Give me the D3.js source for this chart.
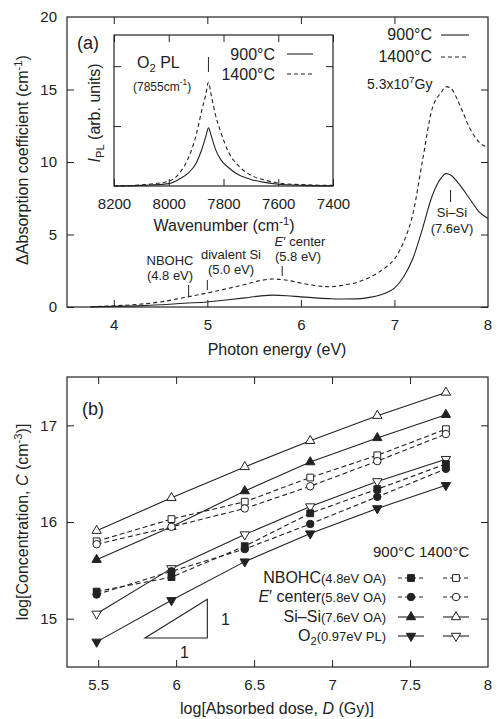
<!DOCTYPE html>
<html>
<head>
<meta charset="utf-8">
<script src="https://cdn.jsdelivr.net/npm/d3@7"></script>
<style>
  body { margin: 0; background: #fff; }
  svg { display: block; font-family: "Liberation Sans", Arial, Helvetica, sans-serif; }
</style>
</head>
<body>
<svg id="chart" width="497" height="719"></svg>
<script>
// ---- panel (a): difference absorption spectra ----
const energy     = [3.75, 4.0, 4.25, 4.5, 4.75, 5.0, 5.2, 5.4, 5.55, 5.7, 5.85, 6.0, 6.15, 6.3, 6.45, 6.6, 6.75, 6.9, 7.0, 7.1, 7.2, 7.3, 7.4, 7.5, 7.55, 7.6, 7.7, 7.8, 7.9, 8.0];
const absorb900  = [0.01, 0.04, 0.08, 0.15, 0.26, 0.35, 0.48, 0.63, 0.75, 0.82, 0.78, 0.70, 0.63, 0.58, 0.55, 0.56, 0.68, 0.95, 1.3, 2.1, 3.4, 5.4, 7.6, 8.9, 9.2, 9.1, 8.4, 7.5, 6.6, 6.1];
const absorb1400 = [0.02, 0.08, 0.18, 0.35, 0.65, 0.97, 1.25, 1.55, 1.80, 1.93, 1.85, 1.65, 1.48, 1.40, 1.50, 1.70, 2.1, 2.7, 3.3, 4.5, 6.5, 10.1, 13.6, 14.8, 15.2, 15.1, 13.9, 12.4, 11.4, 11.0];
const energyTicks = [4, 5, 6, 7, 8];
const absorbTicks = [0, 5, 10, 15, 20];

// ---- inset: O2 photoluminescence ----
const wavenumber = [8200, 8100, 8000, 7960, 7930, 7900, 7880, 7865, 7855, 7845, 7830, 7810, 7780, 7750, 7700, 7650, 7600, 7500, 7400];
const pl900      = [0.0, 0.01, 0.04, 0.12, 0.21, 0.38, 0.60, 0.82, 0.97, 0.84, 0.62, 0.44, 0.30, 0.20, 0.11, 0.06, 0.03, 0.01, 0.0];
const pl1400     = [0.0, 0.02, 0.08, 0.22, 0.45, 0.85, 1.25, 1.52, 1.73, 1.52, 1.20, 0.90, 0.55, 0.36, 0.18, 0.10, 0.05, 0.02, 0.01];
const wnTicks = [8200, 8000, 7800, 7600, 7400];
const plTicks = [1, 2];

// ---- panel (b): log concentration vs log dose ----
const logDose   = [5.49, 5.97, 6.44, 6.86, 7.29, 7.73];
const nbohc900  = [15.28, 15.43, 15.75, 16.09, 16.34, 16.60];
const nbohc1400 = [15.80, 16.03, 16.21, 16.46, 16.69, 16.96];
const eprime900  = [15.25, 15.49, 15.72, 15.98, 16.26, 16.55];
const eprime1400 = [15.77, 15.95, 16.14, 16.37, 16.63, 16.91];
const sisi900   = [15.61, 15.95, 16.32, 16.62, 16.87, 17.11];
const sisi1400  = [15.91, 16.25, 16.57, 16.84, 17.10, 17.34];
const o2900     = [14.76, 15.19, 15.59, 15.88, 16.14, 16.38];
const o21400    = [15.05, 15.52, 15.87, 16.16, 16.42, 16.65];
const doseTicks = [5.5, 6, 6.5, 7, 7.5, 8];
const concTicks = [15, 16, 17];
const slopeTriangle = [[5.8, 14.8], [6.2, 14.8], [6.2, 15.2]];

const ink = "#222";
const svg = d3.select("#chart");

// helper: text made of parts {t, italic, sub, sup, size}
function richText(g, x, y, parts, opts) {
  opts = opts || {};
  let t = g.append("text").attr("x", x).attr("y", y)
    .attr("fill", ink)
    .attr("font-size", opts.size || 16)
    .attr("text-anchor", opts.anchor || "start");
  if (opts.transform) t.attr("transform", opts.transform);
  let shift = 0;
  parts.forEach(function(p) {
    let s = t.append("tspan").text(p.t);
    let dy = 0;
    if (p.sub) dy = 4 - shift;
    else if (p.sup) dy = -6 - shift;
    else dy = -shift;
    if (dy !== 0) s.attr("dy", dy);
    shift += dy;
    if (p.size) s.attr("font-size", p.size);
    else if (p.sub || p.sup) s.attr("font-size", (opts.size || 16) * 0.7);
    if (p.italic) s.attr("font-style", "italic");
  });
  return t;
}

function frameAxes(g, x, y, xt, yt, opts) {
  opts = opts || {};
  let [x0, x1] = x.range(), [y0, y1] = y.range();
  g.append("rect").attr("x", Math.min(x0, x1)).attr("y", Math.min(y0, y1))
    .attr("width", Math.abs(x1 - x0)).attr("height", Math.abs(y1 - y0))
    .attr("fill", opts.bg || "none").attr("stroke", ink).attr("stroke-width", 1.2);
  let fs = opts.fontSize || 15;
  let bottom = g.append("g").attr("transform", "translate(0," + y0 + ")")
    .call(d3.axisBottom(x).tickValues(xt).tickSize(-7).tickSizeOuter(0).tickPadding(opts.xPad || 12)
      .tickFormat(opts.xFormat || d3.format("")));
  let top = g.append("g").attr("transform", "translate(0," + y1 + ")")
    .call(d3.axisTop(x).tickValues(xt).tickSize(-7).tickSizeOuter(0).tickFormat(""));
  let left = g.append("g").attr("transform", "translate(" + x0 + ",0)")
    .call(d3.axisLeft(y).tickValues(yt).tickSize(-7).tickSizeOuter(0).tickPadding(10)
      .tickFormat(opts.yLabels === false ? "" : d3.format("")));
  let right = g.append("g").attr("transform", "translate(" + x1 + ",0)")
    .call(d3.axisRight(y).tickValues(yt).tickSize(-7).tickSizeOuter(0).tickFormat(""));
  [bottom, top, left, right].forEach(function(a) {
    a.select(".domain").remove();
    a.selectAll("line").attr("stroke", ink);
    a.selectAll("text").attr("fill", ink).attr("font-size", fs)
      .attr("font-family", "Liberation Sans, Arial, sans-serif");
  });
}

// =================== panel (a) ===================
const xA = d3.scaleLinear().domain([3.5, 8]).range([67, 488]);
const yA = d3.scaleLinear().domain([0, 20]).range([307, 17]);
const gA = svg.append("g");

const lineA = function(vals) {
  return d3.line().x(function(d, i) { return xA(energy[i]); })
    .y(function(d) { return yA(d); }).curve(d3.curveMonotoneX)(vals);
};
gA.append("path").attr("d", lineA(absorb900)).attr("fill", "none").attr("stroke", ink).attr("stroke-width", 1.1);
gA.append("path").attr("d", lineA(absorb1400)).attr("fill", "none").attr("stroke", ink).attr("stroke-width", 1.1)
  .attr("stroke-dasharray", "4,3");

frameAxes(gA, xA, yA, energyTicks.slice(0, 4), absorbTicks.slice(1, 4).concat([0]), {});
// tick labels at the frame corners
gA.append("text").attr("x", xA(8)).attr("y", 330).attr("text-anchor", "middle").attr("font-size", 15).attr("fill", ink).text("8");
gA.append("text").attr("x", 57).attr("y", yA(20) + 5).attr("text-anchor", "end").attr("font-size", 15).attr("fill", ink).text("20");

richText(gA, 277, 355, [{t: "Photon energy (eV)"}], {anchor: "middle"});
richText(gA, 0, 0, [{t: "\u0394Absorption coefficient (cm"}, {t: "-1", sup: true}, {t: ")"}],
  {anchor: "middle", transform: "translate(28,160) rotate(-90)"});
richText(gA, 77, 49, [{t: "(a)"}], {size: 18});

// legend (a)
[["900\u00b0C", 40, null], ["1400\u00b0C", 62, "4,3"]].forEach(function(r) {
  richText(gA, 432, r[1], [{t: r[0]}], {anchor: "end"});
  let l = gA.append("line").attr("x1", 441).attr("x2", 469).attr("y1", r[1] - 5).attr("y2", r[1] - 5)
    .attr("stroke", ink).attr("stroke-width", 1.1);
  if (r[2]) l.attr("stroke-dasharray", r[2]);
});
richText(gA, 367, 89, [{t: "5.3x10"}, {t: "7", sup: true}, {t: "Gy"}], {size: 14});

// band annotations
function bandMark(e, y1, y2) {
  gA.append("line").attr("x1", xA(e)).attr("x2", xA(e)).attr("y1", y1).attr("y2", y2).attr("stroke", ink);
}
richText(gA, 170, 265, [{t: "NBOHC"}], {anchor: "middle", size: 13});
richText(gA, 170, 280, [{t: "(4.8 eV)"}], {anchor: "middle", size: 13});
bandMark(4.8, 285, 296);
richText(gA, 231, 259, [{t: "divalent Si"}], {anchor: "middle", size: 13});
richText(gA, 231, 274, [{t: "(5.0 eV)"}], {anchor: "middle", size: 13});
bandMark(5.0, 280, 290);
richText(gA, 300, 246, [{t: "E", italic: true}, {t: "\u2032 center"}], {anchor: "middle", size: 13});
richText(gA, 298, 261, [{t: "(5.8 eV)"}], {anchor: "middle", size: 13});
bandMark(5.8, 266, 276);
richText(gA, 452, 217, [{t: "Si\u2013Si"}], {anchor: "middle", size: 13});
richText(gA, 452, 233, [{t: "(7.6eV)"}], {anchor: "middle", size: 13});
bandMark(7.6, 190, 202);

// =================== inset ===================
const xI = d3.scaleLinear().domain([8200, 7400]).range([114, 333]);
const yI = d3.scaleLinear().domain([0, 2.52]).range([186, 35]);
const gI = svg.append("g");
gI.append("rect").attr("x", 114).attr("y", 35).attr("width", 219).attr("height", 151).attr("fill", "#fff");
const lineI = function(vals) {
  return d3.line().x(function(d, i) { return xI(wavenumber[i]); })
    .y(function(d) { return yI(d); }).curve(d3.curveMonotoneX)(vals);
};
gI.append("path").attr("d", lineI(pl900)).attr("fill", "none").attr("stroke", ink).attr("stroke-width", 1.1);
gI.append("path").attr("d", lineI(pl1400)).attr("fill", "none").attr("stroke", ink).attr("stroke-width", 1.1)
  .attr("stroke-dasharray", "4,3");
frameAxes(gI, xI, yI, wnTicks, plTicks, {yLabels: false, xPad: 12});
richText(gI, 224, 231, [{t: "Wavenumber (cm"}, {t: "-1", sup: true}, {t: ")"}], {anchor: "middle"});
richText(gI, 0, 0, [{t: "I", italic: true}, {t: "PL", sub: true}, {t: " (arb. units)"}],
  {anchor: "middle", transform: "translate(100,113) rotate(-90)"});
richText(gI, 137, 68, [{t: "O"}, {t: "2", sub: true}, {t: " PL"}], {size: 16});
richText(gI, 133, 91, [{t: "(7855cm"}, {t: "-1", sup: true}, {t: ")"}], {size: 12});
gI.append("line").attr("x1", xI(7855)).attr("x2", xI(7855)).attr("y1", 57).attr("y2", 72).attr("stroke", ink);
[["900\u00b0C", 60, null], ["1400\u00b0C", 80, "4,3"]].forEach(function(r) {
  richText(gI, 275, r[1], [{t: r[0]}], {anchor: "end"});
  let l = gI.append("line").attr("x1", 287).attr("x2", 313).attr("y1", r[1] - 6).attr("y2", r[1] - 6)
    .attr("stroke", ink).attr("stroke-width", 1.1);
  if (r[2]) l.attr("stroke-dasharray", r[2]);
});

// =================== panel (b) ===================
const xB = d3.scaleLinear().domain([5.3, 8]).range([67, 488]);
const yB = d3.scaleLinear().domain([14.5, 17.5]).range([667, 377]);
const gB = svg.append("g");

const symUp = d3.symbol().type(d3.symbolTriangle).size(38);
const symSq = d3.symbol().type(d3.symbolSquare).size(46);
const symCi = d3.symbol().type(d3.symbolCircle).size(44);

const series = [
  {vals: sisi1400, dash: null, sym: symUp, fill: "#fff", rot: 0},
  {vals: sisi900, dash: null, sym: symUp, fill: ink, rot: 0},
  {vals: nbohc1400, dash: "5,3", sym: symSq, fill: "#fff", rot: 0},
  {vals: eprime1400, dash: "5,3", sym: symCi, fill: "#fff", rot: 0},
  {vals: o21400, dash: null, sym: symUp, fill: "#fff", rot: 180},
  {vals: nbohc900, dash: "5,3", sym: symSq, fill: ink, rot: 0},
  {vals: eprime900, dash: "5,3", sym: symCi, fill: ink, rot: 0},
  {vals: o2900, dash: null, sym: symUp, fill: ink, rot: 180}
];

frameAxes(gB, xB, yB, doseTicks.slice(0, 5), concTicks, {});
gB.append("text").attr("x", xB(8)).attr("y", 690).attr("text-anchor", "middle").attr("font-size", 15).attr("fill", ink).text("8");

const lineB = d3.line().x(function(d, i) { return xB(logDose[i]); }).y(function(d) { return yB(d); });
series.forEach(function(s) {
  let p = gB.append("path").attr("d", lineB(s.vals)).attr("fill", "none").attr("stroke", ink).attr("stroke-width", 1.1);
  if (s.dash) p.attr("stroke-dasharray", s.dash);
});
series.forEach(function(s) {
  gB.append("g").selectAll("path").data(s.vals).enter().append("path")
    .attr("d", s.sym())
    .attr("transform", function(d, i) {
      return "translate(" + xB(logDose[i]) + "," + yB(d) + ") rotate(" + s.rot + ")";
    })
    .attr("fill", s.fill).attr("stroke", ink).attr("stroke-width", 1);
});

// slope triangle
gB.append("path").attr("d", d3.line().x(function(d) { return xB(d[0]); }).y(function(d) { return yB(d[1]); })(slopeTriangle) + "Z")
  .attr("fill", "none").attr("stroke", ink).attr("stroke-width", 1.1);
richText(gB, 221, 625, [{t: "1"}], {});
richText(gB, 180, 658, [{t: "1"}], {});

richText(gB, 277, 714, [{t: "log[Absorbed dose, "}, {t: "D", italic: true}, {t: " (Gy)]"}], {anchor: "middle"});
richText(gB, 0, 0, [{t: "log[Concentration, "}, {t: "C", italic: true}, {t: " (cm"}, {t: "-3", sup: true}, {t: ")]"}],
  {anchor: "middle", transform: "translate(28,522) rotate(-90)"});
richText(gB, 82, 415, [{t: "(b)"}], {size: 18});

// legend (b)
richText(gB, 373, 557, [{t: "900\u00b0C 1400\u00b0C"}], {size: 15});
const legendRows = [
  {y: 583, parts: [{t: "NBOHC"}, {t: "(4.8eV OA)", size: 13}], dash: "4,3", sym: symSq},
  {y: 602, parts: [{t: "E", italic: true}, {t: "\u2032 center"}, {t: "(5.8eV OA)", size: 13}], dash: "4,3", sym: symCi},
  {y: 622, parts: [{t: "Si\u2013Si"}, {t: "(7.6eV OA)", size: 13}], dash: null, sym: symUp, rot: 0},
  {y: 641, parts: [{t: "O"}, {t: "2", sub: true}, {t: "(0.97eV PL)", size: 13}], dash: null, sym: symUp, rot: 180}
];
legendRows.forEach(function(r) {
  richText(gB, 386, r.y, r.parts, {anchor: "end"});
  [[411, ink], [456, "#fff"]].forEach(function(c) {
    let l = gB.append("line").attr("x1", c[0] - 13).attr("x2", c[0] + 13).attr("y1", r.y - 5).attr("y2", r.y - 5)
      .attr("stroke", ink).attr("stroke-width", 1.1);
    if (r.dash) l.attr("stroke-dasharray", r.dash);
    gB.append("path").attr("d", r.sym())
      .attr("transform", "translate(" + c[0] + "," + (r.y - 5) + ") rotate(" + (r.rot || 0) + ")")
      .attr("fill", c[1]).attr("stroke", ink);
  });
});
</script>
</body>
</html>
